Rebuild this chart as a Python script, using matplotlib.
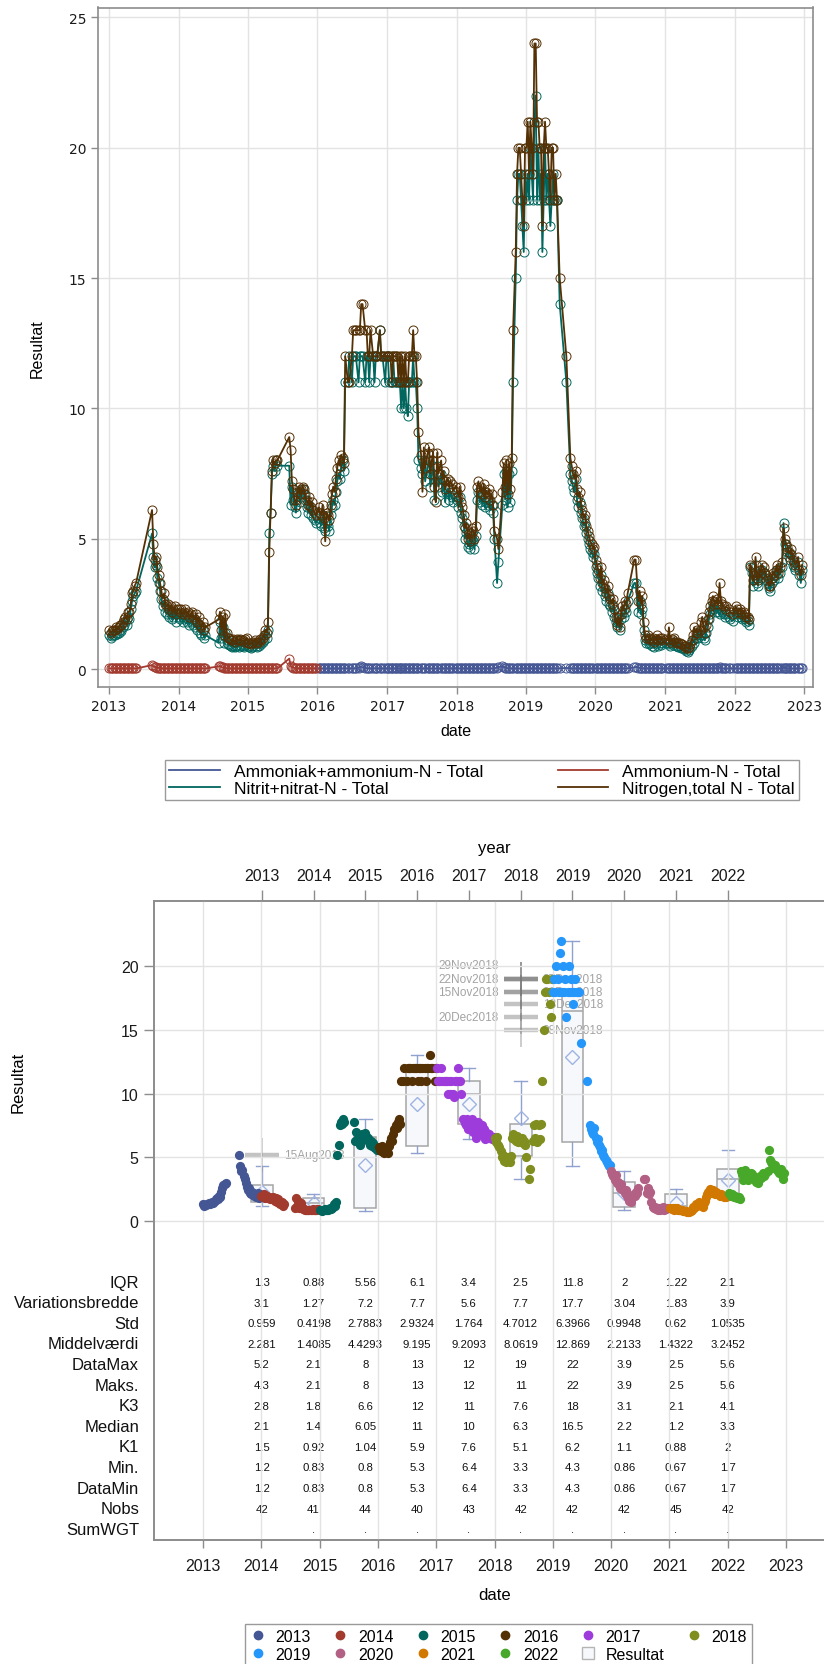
import datetime as dt
import matplotlib
matplotlib.use('Agg')
import matplotlib.pyplot as plt
import matplotlib.dates as mdates
from matplotlib.lines import Line2D

N = None

years = [2013, 2014, 2015, 2016, 2017, 2018, 2019, 2020, 2021, 2022]
year_colors = ['#445694', '#A23A2E', '#01665E', '#543005', '#9D3CDB',
               '#7F8E1F', '#2597FA', '#B26084', '#D17800', '#47A82A']

# weekly samples (Thursdays), None = no sample that week
no3_2013 = [1.3, 1.2, 1.25, 1.3, 1.3, 1.4, 1.35, 1.4, 1.5, 1.45, 1.6, 1.7, 1.8, 1.7, 2.0, 1.9, 2.3, 2.6, 2.8, 2.9, 3.0,
            N, N, N, N, N, N, N, N, N, N, N,
            5.2, 4.3, 3.9, 4.0, 3.5, 3.3, 3.0, 2.7, 2.4, 2.6, 2.2, 2.1, 2.3, 2.0, 2.1, 1.9, 2.0, 2.2, 1.8, 2.1]
no3_2014 = [2.0, 1.9, 2.1, 1.8, 1.9, 2.0, 1.8, 1.9, 1.7, 1.8, 1.9, 1.7, 1.6, 1.8, 1.5, 1.7, 1.4, 1.3, 1.5, 1.2, 1.3,
            N, N, N, N, N, N, N, N, N,
            1.0, 1.8, 1.2, 1.6, 1.0, 1.4, 1.1, 0.95, 0.92, 0.88, 0.85, 0.9, 0.83, 0.88, 0.9, 0.86, 0.92, 0.88, 0.9, 0.85, 0.92, 0.95]
no3_2015 = [0.9, 0.85, 0.8, 0.85, 0.9, 0.95, 0.9, 0.85, 0.9, 1.0, 0.95, 1.05, 1.1, 1.3, 1.2, 1.5, 5.2, 6.0, 7.5, 7.8, 7.6, 8.0, 7.8,
            N, N, N, N, N, N, N, N,
            7.8, 6.3, 7.0, 6.5, 6.2, 6.0, 6.5, 6.8, 6.4, 6.6, 6.9, 6.7, 6.5, 6.2, 6.0, 6.3, 5.9, 6.1, 5.8, 5.7, 5.6]
no3_2016 = [5.8, 5.6, 5.5, 5.9, 5.4, 5.3, 5.6, 5.5, 5.3, 5.9, 6.2, 6.5, 6.3, 6.8, 7.2, 7.5, 7.3, 7.8, 8.0, 7.6,
            11, N, 11, 12, N, 11, 12, 12, 12, N, 11, 12, 12, 12, N, 11, 12, 12, 11, 12, N, 12, 11, 12, 12, N, 13, 12, 12, N, 11, 12]
no3_2017 = [12, 11, 11, 11, 12, 11, 11, 11, 11, 11, 10, 11, 10, 11, 10, 9.7, 11, 11, 11, 12, 11, 11, 10, 8.0, N,
            7.7, 7.5, 8.0, 7.2, N, 7.8, 8.0, 7.0, 7.5, 7.8, 6.5, 7.2, 7.8, 7.0, N,
            7.5, 6.8, 7.2, 6.4, 6.8, 6.9, 6.5, 6.8, 6.6, 6.4, N, 6.6]
no3_2018 = [6.5, 6.2, 6.6, 6.0, 5.8, 5.5, 5.0, 5.2, 4.7, 4.8, 4.6, 5.0, 4.9, 4.6, 5.1, 6.5, 6.8, 6.4, 6.6, 6.3, 6.7,
            6.2, 6.4, 6.3, 6.5, 6.1, 6.3, 6.0, 5.0, N, 3.3, 4.1, N, N,
            6.3, 7.5, 6.5, 7.6, 6.2, 7.5, 6.4, 7.6, 11, N, 15, 18, 19, 19, 18, 17, 16, 19]
no3_2019 = [18, 19, 18, 20, 19, 18, 21, 22, 18, 20, 18, 19, 16, 18, 20, 18, 19, 18, 17, 18, 19, 18, 18, 18,
            N, 14, N, N, N, N, 11, N, N,
            7.5, 7.2, 7.0, 6.8, 7.3, 6.5, 6.2, 6.4, 6.0, 5.8, 5.5, 5.6, 5.2, 5.0, 4.8, 4.6, 4.5, 4.3, 4.4]
no3_2020 = [3.9, 3.7, 3.5, 3.2, 3.6, 3.0, 3.1, 2.8, 2.6, 2.9, 2.5, 2.4, 2.2, 2.4, 2.0, 1.8, 1.6, 1.8, 1.5, 1.9,
            2.1, 2.0, 2.3, 2.2, 2.6, N, N, N, N, 3.3, 3.3, N,
            2.2, 2.6, 2.1, 2.3, 1.5, 1.1, 1.0, 1.1, 0.95, 1.0, 0.9, 1.0, 0.86, 0.95, 1.1, 0.9, 1.0, 0.92, 1.0, N]
no3_2021 = [1.0, 0.95, 1.0, 0.9, 1.0, 0.92, 1.05, 0.88, 0.9, 0.85, 0.88, 0.8, 0.82, 0.78, 0.75, 0.7, 0.67, 0.72, 0.8, 0.9,
            1.1, 1.0, 1.2, 1.3, 1.2, 1.3, 1.5, 1.3, 1.2, 1.1, 1.4, 1.6, 1.9, 2.1, 2.3, 2.5, 2.3, 2.2, 2.4, 2.2,
            2.1, 2.3, 2.2, 2.1, 2.0, 2.1, N, 2.0, 1.9, N, 1.85, N]
no3_2022 = [2.2, 2.1, 2.0, 2.1, 2.0, 1.9, 2.0, 1.9, 1.8, 1.85, 1.7, 3.9, 3.7, 3.2, 3.4, 4.0, 3.3, 3.2, 3.6, 3.5,
            3.8, 3.7, 3.5, 3.4, 3.3, 3.1, 3.0, 3.3, 3.5, 3.4, 3.6, 3.8, 3.5, 3.7, N, 3.9, 5.6, 4.8, 4.6, 4.5,
            4.3, 4.2, 4.4, 4.0, 3.9, 3.8, N, 4.1, 3.6, 3.3, 3.8, N]

totn_2013 = [1.5, 1.4, 1.45, 1.5, 1.5, 1.6, 1.55, 1.6, 1.7, 1.7, 1.8, 1.9, 2.0, 1.9, 2.2, 2.2, 2.5, 2.9, 3.0, 3.2, 3.3,
             N, N, N, N, N, N, N, N, N, N, N,
             6.1, 4.8, 4.2, 4.3, 3.9, 3.6, 3.3, 3.0, 2.7, 2.9, 2.5, 2.4, 2.5, 2.3, 2.4, 2.2, 2.3, 2.4, 2.1, 2.3]
totn_2014 = [2.3, 2.2, 2.3, 2.1, 2.2, 2.3, 2.1, 2.2, 2.0, 2.1, 2.2, 2.0, 1.9, 2.1, 1.8, 2.0, 1.7, 1.6, 1.8, 1.5, 1.6,
             N, N, N, N, N, N, N, N, N,
             1.9, 2.2, 1.5, 2.0, 1.3, 2.1, 1.4, 1.2, 1.2, 1.1, 1.1, 1.15, 1.05, 1.1, 1.15, 1.1, 1.15, 1.1, 1.1, 1.05, 1.15, 1.2]
totn_2015 = [1.0, 1.0, 0.95, 1.0, 1.05, 1.1, 1.05, 1.0, 1.05, 1.15, 1.1, 1.2, 1.3, 1.5, 1.4, 1.8, 4.5, 6.0, 7.6, 8.0, 7.9, 8.0, 8.0,
             N, N, N, N, N, N, N, N,
             8.9, 8.4, 7.2, 6.9, 6.5, 6.3, 6.8, 7.0, 6.7, 6.9, 7.0, 6.9, 6.7, 6.5, 6.3, 6.6, 6.2, 6.4, 6.1, 6.0, 5.9]
totn_2016 = [6.2, 6.0, 5.9, 6.3, 5.8, 4.9, 6.0, 5.9, 5.7, 6.3, 6.7, 7.0, 6.8, 7.3, 7.7, 8.0, 7.8, 8.2, 8.1, 7.9,
             12, N, 11, 11, N, 12, 13, 13, 13, N, 13, 13, 14, 14, N, 13, 13, 12, 12, 13, N, 12, 12, 12, 12, N, 13, 12, 12, N, 12, 12]
totn_2017 = [12, 12, 12, 11, 12, 12, 12, 12, 11, 12, 11, 12, 11, 12, 11, 11, 12, 12, 12, 13, 12, 12, 11, 9.1, N,
             8.2, 6.8, 8.5, 7.7, N, 8.3, 8.5, 7.5, 8.0, 8.3, 7.0, 6.4, 8.3, 7.5, N,
             8.0, 7.3, 7.6, 6.9, 7.2, 7.3, 7.0, 7.2, 7.1, 6.9, N, 7.0]
totn_2018 = [6.8, 6.6, 7.0, 6.4, 6.2, 5.9, 5.4, 5.6, 5.0, 5.2, 4.9, 5.4, 5.3, 5.0, 5.5, 7.0, 7.2, 6.8, 7.0, 6.7, 7.1,
             6.6, 6.8, 6.7, 6.9, 6.5, 6.7, 6.3, 5.3, N, 5.0, 4.6, N, N,
             6.8, 7.9, 7.0, 8.0, 6.7, 7.9, 6.9, 8.1, 13, N, 16, 19, 20, 20, 19, 18, 17, 20]
totn_2019 = [20, 21, 19, 21, 20, 19, 24, 24, 21, 21, 20, 20, 17, 20, 21, 20, 20, 19, 18, 20, 20, 18, 19, 18,
             N, 15, N, N, N, N, 12, N, N,
             8.1, 7.8, 7.5, 7.3, 7.6, 6.9, 6.6, 6.8, 6.3, 6.1, 5.8, 5.9, 5.5, 5.3, 5.1, 4.9, 4.8, 4.6, 4.7]
totn_2020 = [4.2, 4.0, 3.8, 3.5, 3.9, 3.3, 3.4, 3.1, 2.9, 3.2, 2.8, 2.7, 2.5, 2.7, 2.3, 2.0, 1.7, 2.0, 1.6, 2.1,
             2.4, 2.3, 2.6, 2.5, 2.9, N, N, N, N, 4.2, 4.2, N,
             2.6, 3.0, 2.5, 2.8, 1.8, 1.3, 1.2, 1.3, 1.15, 1.2, 1.1, 1.2, 1.05, 1.15, 1.3, 1.1, 1.2, 1.1, 1.2, N]
totn_2021 = [1.15, 1.1, 1.6, 1.05, 1.15, 1.1, 1.2, 1.0, 1.05, 1.0, 1.0, 0.95, 0.95, 0.9, 0.88, 0.82, 0.8, 0.85, 0.95, 1.1,
             1.3, 1.6, 1.4, 1.5, 1.4, 1.5, 1.8, 2.0, 1.6, 1.4, 1.7, 1.9, 2.2, 2.4, 2.6, 2.8, 2.6, 2.5, 2.7, 2.5,
             3.3, 2.6, 2.5, 2.4, 2.3, 2.4, N, 2.3, 2.2, N, 2.1, N]
totn_2022 = [2.4, 2.3, 2.2, 2.3, 2.2, 2.1, 2.2, 2.1, 2.0, 2.0, 1.9, 4.0, 3.9, 3.4, 3.6, 4.3, 3.5, 3.4, 3.8, 3.7,
             4.0, 3.9, 3.7, 3.6, 3.5, 3.2, 3.2, 3.5, 3.7, 3.6, 3.8, 4.0, 3.7, 3.9, N, 4.1, 5.4, 5.0, 4.8, 4.7,
             4.5, 4.4, 4.6, 4.2, 4.1, 4.0, N, 4.3, 3.8, 3.6, 4.0, N]

nh4_2013 = [0.03, 0.02, 0.03, 0.02, 0.03, 0.02, 0.02, 0.03, 0.02, 0.02, 0.03, 0.02, 0.02, 0.03, 0.02, 0.02, 0.03, 0.02, 0.03, 0.02, 0.02,
            N, N, N, N, N, N, N, N, N, N, N,
            0.15, 0.10, 0.08, 0.06, 0.05, 0.04, 0.05, 0.03, 0.02, 0.03, 0.02, 0.03, 0.02, 0.02, 0.03, 0.02, 0.02, 0.03, 0.02, 0.02]
nh4_2014 = [0.02, 0.03, 0.02, 0.02, 0.03, 0.02, 0.02, 0.03, 0.02, 0.02, 0.02, 0.03, 0.02, 0.02, 0.03, 0.02, 0.02, 0.02, 0.03, 0.02, 0.02,
            N, N, N, N, N, N, N, N, N,
            0.10, 0.12, 0.08, 0.06, 0.05, 0.04, 0.03, 0.02, 0.03, 0.02, 0.02, 0.03, 0.02, 0.02, 0.03, 0.02, 0.02, 0.02, 0.03, 0.02, 0.02, 0.03]
nh4_2015 = [0.02, 0.02, 0.03, 0.02, 0.02, 0.03, 0.02, 0.02, 0.02, 0.03, 0.02, 0.02, 0.03, 0.02, 0.02, 0.03, 0.02, 0.02, 0.03, 0.02, 0.02, 0.03, 0.02,
            N, N, N, N, N, N, N, N,
            0.40, 0.12, 0.06, 0.05, 0.04, 0.03, 0.02, 0.03, 0.02, 0.02, 0.03, 0.02, 0.02, 0.03, 0.02, 0.02, 0.03, 0.02, 0.02, 0.03, 0.02]
nh4_2016 = [0.02, 0.03, 0.02, 0.02, 0.03, 0.02, 0.02, 0.03, 0.02, 0.02, 0.03, 0.02, 0.02, 0.03, 0.02, 0.02, 0.03, 0.02, 0.02, 0.03,
            0.02, N, 0.03, 0.02, N, 0.03, 0.02, 0.03, 0.02, N, 0.05, 0.08, 0.10, 0.06, N, 0.04, 0.03, 0.02, 0.03, 0.02,
            N, 0.02, 0.03, 0.02, 0.02, N, 0.03, 0.02, 0.02, N, 0.03, 0.02]
nh4_2017 = [0.02, 0.03, 0.02, 0.02, 0.03, 0.02, 0.02, 0.03, 0.02, 0.02, 0.03, 0.02, 0.02, 0.03, 0.02, 0.02, 0.03, 0.02, 0.02, 0.03,
            0.02, 0.02, 0.03, 0.02, N, 0.03, 0.02, 0.02, 0.03, N, 0.02, 0.03, 0.02, 0.02, 0.03, 0.02, 0.02, 0.03, 0.02, N,
            0.02, 0.03, 0.02, 0.02, 0.03, 0.02, 0.02, 0.03, 0.02, 0.02, N, 0.03]
nh4_2018 = [0.02, 0.03, 0.02, 0.02, 0.03, 0.02, 0.02, 0.03, 0.02, 0.02, 0.03, 0.02, 0.02, 0.03, 0.02, 0.02, 0.03, 0.02, 0.02, 0.03,
            0.02, 0.02, 0.03, 0.02, 0.02, 0.03, 0.02, 0.02, 0.03, N, 0.05, 0.08, N, N,
            0.10, 0.07, 0.05, 0.04, 0.03, 0.02, 0.03, 0.02, 0.03, N, 0.02, 0.03, 0.02, 0.02, 0.03, 0.02, 0.02, 0.03]
nh4_2019 = [0.03, 0.02, 0.02, 0.03, 0.02, 0.02, 0.03, 0.02, 0.02, 0.03, 0.02, 0.02, 0.03, 0.02, 0.02, 0.03, 0.02, 0.02, 0.03, 0.02,
            0.02, 0.03, 0.02, 0.02, N, 0.03, N, N, N, N, 0.04, N, N,
            0.03, 0.02, 0.02, 0.03, 0.02, 0.02, 0.03, 0.02, 0.02, 0.03, 0.02, 0.02, 0.03, 0.02, 0.02, 0.03, 0.02, 0.02]
nh4_2020 = [0.02, 0.03, 0.02, 0.02, 0.03, 0.02, 0.02, 0.03, 0.02, 0.02, 0.03, 0.02, 0.02, 0.03, 0.02, 0.02, 0.03, 0.02, 0.02, 0.03,
            0.02, 0.02, 0.03, 0.02, 0.03, N, N, N, N, 0.06, 0.08, N,
            0.05, 0.04, 0.03, 0.02, 0.03, 0.02, 0.02, 0.03, 0.02, 0.02, 0.03, 0.02, 0.02, 0.03, 0.02, 0.02, 0.03, 0.02, 0.02, N]
nh4_2021 = [0.02, 0.03, 0.02, 0.02, 0.03, 0.02, 0.02, 0.03, 0.02, 0.02, 0.03, 0.02, 0.02, 0.03, 0.02, 0.02, 0.03, 0.02, 0.02, 0.03,
            0.02, 0.02, 0.03, 0.02, 0.02, 0.03, 0.02, 0.02, 0.03, 0.02, 0.02, 0.03, 0.02, 0.02, 0.03, 0.02, 0.02, 0.03, 0.02, 0.02,
            0.07, 0.03, 0.02, 0.02, 0.03, 0.02, N, 0.02, 0.03, N, 0.02, N]
nh4_2022 = [0.02, 0.03, 0.02, 0.02, 0.03, 0.02, 0.02, 0.03, 0.02, 0.02, 0.03, 0.02, 0.02, 0.03, 0.02, 0.02, 0.03, 0.02, 0.02, 0.03,
            0.02, 0.02, 0.03, 0.02, 0.02, 0.03, 0.02, 0.02, 0.03, 0.02, 0.02, 0.03, 0.02, 0.02, N, 0.03, 0.05, 0.04, 0.03, 0.02,
            0.02, 0.03, 0.02, 0.02, 0.03, 0.02, N, 0.02, 0.03, 0.02, 0.02, N]

no3 = [no3_2013, no3_2014, no3_2015, no3_2016, no3_2017, no3_2018, no3_2019, no3_2020, no3_2021, no3_2022]
totn = [totn_2013, totn_2014, totn_2015, totn_2016, totn_2017, totn_2018, totn_2019, totn_2020, totn_2021, totn_2022]
nh4 = [nh4_2013, nh4_2014, nh4_2015, nh4_2016, nh4_2017, nh4_2018, nh4_2019, nh4_2020, nh4_2021, nh4_2022]

# yearly summary of Nitrit+nitrat-N
iqr = [1.3, 0.88, 5.56, 6.1, 3.4, 2.5, 11.8, 2, 1.22, 2.1]
var_range = [3.1, 1.27, 7.2, 7.7, 5.6, 7.7, 17.7, 3.04, 1.83, 3.9]
std = [0.959, 0.4198, 2.7883, 2.9324, 1.764, 4.7012, 6.3966, 0.9948, 0.62, 1.0535]
mean = [2.281, 1.4085, 4.4293, 9.195, 9.2093, 8.0619, 12.869, 2.2133, 1.4322, 3.2452]
data_max = [5.2, 2.1, 8, 13, 12, 19, 22, 3.9, 2.5, 5.6]
maks = [4.3, 2.1, 8, 13, 12, 11, 22, 3.9, 2.5, 5.6]
k3 = [2.8, 1.8, 6.6, 12, 11, 7.6, 18, 3.1, 2.1, 4.1]
median = [2.1, 1.4, 6.05, 11, 10, 6.3, 16.5, 2.2, 1.2, 3.3]
k1 = [1.5, 0.92, 1.04, 5.9, 7.6, 5.1, 6.2, 1.1, 0.88, 2]
mins = [1.2, 0.83, 0.8, 5.3, 6.4, 3.3, 4.3, 0.86, 0.67, 1.7]
data_min = [1.2, 0.83, 0.8, 5.3, 6.4, 3.3, 4.3, 0.86, 0.67, 1.7]
nobs = [42, 41, 44, 40, 43, 42, 42, 42, 45, 42]
sumwgt = [N, N, N, N, N, N, N, N, N, N]

row_names = ['IQR', 'Variationsbredde', 'Std', 'Middelværdi', 'DataMax', 'Maks.', 'K3',
             'Median', 'K1', 'Min.', 'DataMin', 'Nobs', 'SumWGT']
rows = [iqr, var_range, std, mean, data_max, maks, k3, median, k1, mins, data_min, nobs, sumwgt]

# outliers beyond the whiskers
out_year = [2013, 2018, 2018, 2018, 2018, 2018, 2018, 2018, 2018]
out_val = [5.2, 15, 18, 19, 19, 18, 17, 16, 19]
out_label = ['15Aug2013', '08Nov2018', '15Nov2018', '22Nov2018', '29Nov2018',
             '06Dec2018', '13Dec2018', '20Dec2018', '27Dec2018']
out_side = ['R', 'R', 'L', 'L', 'L', 'R', 'R', 'L', 'R']
out_dy = [0, 0, 0, 0, 1.1, 0, 0, 0, 0]


def sample_dates(year, n):
    first = dt.date(year, 1, 1)
    first += dt.timedelta(days=(3 - first.weekday()) % 7)
    return [first + dt.timedelta(weeks=i) for i in range(n)]


def series(year_list, value_lists):
    xs, ys = [], []
    for year, vals in zip(year_list, value_lists):
        for d, v in zip(sample_dates(year, len(vals)), vals):
            if v is not None:
                xs.append(d)
                ys.append(v)
    return xs, ys


def fmt(v):
    return '.' if v is None else '%g' % v


plt.rcParams['font.family'] = ['Liberation Sans', 'DejaVu Sans']

W, H = 824, 1665
fig = plt.figure(figsize=(W / 100, H / 100), dpi=100)

# ---------------- time series ----------------
ax = fig.add_axes([98 / W, 1 - 688 / H, (813 - 98) / W, (688 - 8.5) / H])

lines = [
    (years[3:], nh4[3:], '#445694', 'Ammoniak+ammonium-N - Total'),
    (years[:3], nh4[:3], '#A23A2E', 'Ammonium-N - Total'),
    (years, no3, '#01665E', 'Nitrit+nitrat-N - Total'),
    (years, totn, '#543005', 'Nitrogen,total N - Total'),
]
for yl, vl, col, lab in lines:
    x, y = series(yl, vl)
    ax.plot(x, y, color=col, lw=1.3, marker='o', ms=6.5, mfc='none', mec=col, mew=0.7)

ax.set_xlim(dt.date(2012, 11, 4), dt.date(2023, 2, 17))
ax.set_ylim(-0.69, 25.38)
ax.set_xticks([dt.date(y, 1, 1) for y in range(2013, 2024)])
ax.xaxis.set_major_formatter(mdates.DateFormatter('%Y'))
ax.set_yticks(range(0, 26, 5))
ax.grid(color='#e3e3e3', lw=1)
ax.set_axisbelow(True)
for s in ax.spines.values():
    s.set_color('#8c8c8c')
    s.set_linewidth(1.2)
ax.tick_params(color='#8c8c8c', labelcolor='#1a1a1a', length=5, width=1)
for t in ax.get_xticklabels() + ax.get_yticklabels():
    t.set_fontfamily('DejaVu Sans')
    t.set_fontsize(10)
ax.set_xlabel('date', fontsize=11.5)
ax.set_ylabel('Resultat', fontsize=11.5)
ax.xaxis.set_label_coords(0.5, -0.053)
ax.yaxis.set_label_coords(-0.074, 0.5)

hs = [Line2D([], [], color=c, lw=1.3) for _, _, c, _ in lines]
labs = [l for _, _, _, l in lines]
order = [0, 2, 1, 3]
fig.legend([hs[i] for i in order], [labs[i] for i in order], ncol=2,
           loc='center', bbox_to_anchor=(482 / W, 1 - 781 / H), fontsize=12.5,
           frameon=True, fancybox=False, edgecolor='#9a9a9a', framealpha=1,
           handlelength=2.9, handletextpad=0.8, columnspacing=4.3,
           borderpad=0.25, labelspacing=0.1)

# ---------------- yearly box plot + table ----------------
bx = fig.add_axes([154 / W, 1 - 1541 / H, (835 - 154) / W, (1541 - 902) / H])
cx = bx.twiny()
bx.set_zorder(cx.get_zorder() + 1)
bx.patch.set_visible(False)

bx.set_xlim(dt.date(2012, 2, 29), dt.date(2023, 11, 4))
bx.set_ylim(-25.04, 25.12)
cx.set_xlim(-2.080, 11.07)

for i, yr in enumerate(years):
    x, y = series([yr], [no3[i]])
    bx.scatter(x, y, s=44, color=year_colors[i], linewidths=0, zorder=3)

stats = [dict(med=median[i], q1=k1[i], q3=k3[i], whislo=mins[i], whishi=maks[i],
              mean=mean[i], fliers=[]) for i in range(len(years))]
cx.bxp(stats, positions=range(len(years)), widths=0.42, capwidths=0.24,
       showmeans=True, patch_artist=True,
       boxprops=dict(facecolor='#f6f8fb', edgecolor='#a5a5a5', lw=1.1),
       whiskerprops=dict(color='#8fa2cf', lw=1),
       capprops=dict(color='#8fa2cf', lw=1),
       medianprops=dict(color='#a5a5a5', lw=1.1),
       meanprops=dict(marker='D', mfc='none', mec='#9fb3e3', ms=7.5, mew=1))

for yr, v, lab, side, dy in zip(out_year, out_val, out_label, out_side, out_dy):
    p = years.index(yr)
    cx.plot(p, v, marker='_', ms=25, mew=3.2, color='#7a7a7a', alpha=0.45)
    cx.plot(p, v, marker='|', ms=25, mew=1.2, color='#7a7a7a', alpha=0.45)
    off = 16 if side == 'R' else -16
    cx.annotate(lab, (p, v + dy), xytext=(off, 0), textcoords='offset points',
                ha='left' if side == 'R' else 'right', va='center',
                color='#a3a3a3', fontsize=8.5)

row_y0, row_step = -4.79, 1.617
for r, (name, vals) in enumerate(zip(row_names, rows)):
    yy = row_y0 - r * row_step
    bx.text(-0.022, yy, name, transform=bx.get_yaxis_transform(), ha='right',
            va='center', fontsize=12, color='#111111')
    for i, v in enumerate(vals):
        cx.text(i, yy, fmt(v), ha='center', va='center', fontsize=8.2, color='#111111')

bx.set_xticks([dt.date(y, 1, 1) for y in range(2013, 2024)])
bx.xaxis.set_major_formatter(mdates.DateFormatter('%Y'))
bx.set_yticks(range(0, 21, 5))
bx.grid(color='#e3e3e3', lw=1)
bx.set_axisbelow(True)
for a in (bx, cx):
    for s in a.spines.values():
        s.set_color('#8c8c8c')
        s.set_linewidth(1.2)
bx.tick_params(color='#8c8c8c', labelcolor='#1a1a1a', labelsize=11.5, width=1)
bx.tick_params(axis='x', length=6, pad=7)
bx.tick_params(axis='y', length=7, pad=4)
cx.set_xticks(range(len(years)))
cx.set_xticklabels([str(y) for y in years])
cx.tick_params(axis='x', color='#8c8c8c', labelcolor='#1a1a1a', labelsize=11.5,
               length=8, width=1, pad=5)
bx.set_xlabel('date', fontsize=12)
bx.xaxis.set_label_coords(0.5, -0.0736)
bx.set_ylabel('Resultat', fontsize=12)
bx.yaxis.set_label_coords(-0.189, 0.718)
cx.set_xlabel('year', fontsize=12)
cx.xaxis.set_label_coords(0.5, 1.077)

yh = [Line2D([], [], ls='none', marker='o', ms=6, color=c) for c in year_colors]
yh.append(Line2D([], [], ls='none', marker='s', ms=9, mfc='#f6f8fb', mec='#b5b5b5', mew=1))
ylabs = [str(y) for y in years] + ['Resultat']
order = [0, 6, 1, 7, 2, 8, 3, 9, 4, 10, 5]
fig.legend([yh[i] for i in order], [ylabs[i] for i in order], ncol=6,
           loc='upper left', bbox_to_anchor=(245 / W, 1 - 1625 / H), fontsize=11.5,
           frameon=True, fancybox=False, edgecolor='#9a9a9a', framealpha=1,
           handlelength=1.0, handletextpad=0.6, columnspacing=1.35,
           borderpad=0.3, labelspacing=0.2, borderaxespad=0)

fig.savefig('out.png', dpi=100)
